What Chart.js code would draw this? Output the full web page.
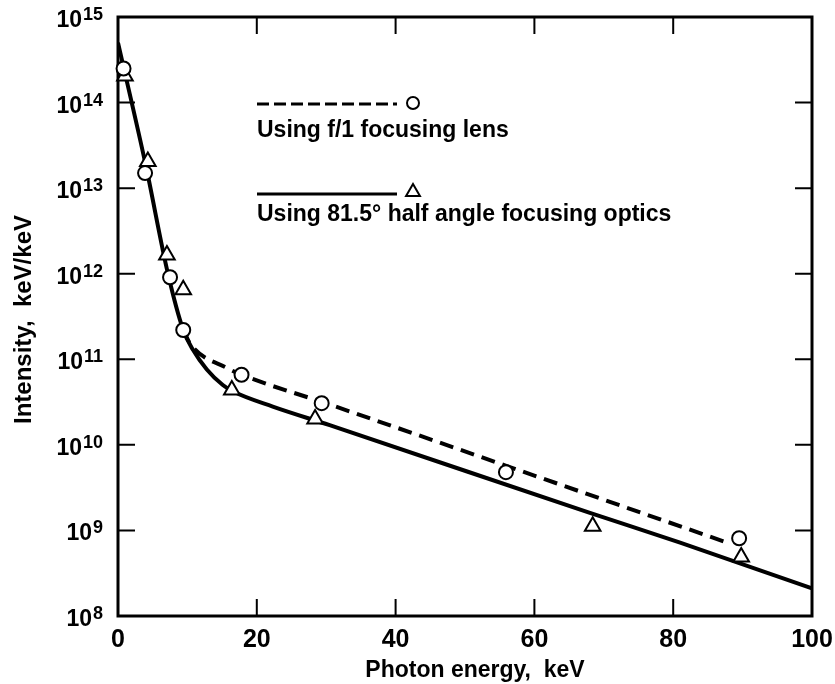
<!DOCTYPE html>
<html><head><meta charset="utf-8">
<script src="https://cdn.jsdelivr.net/npm/chart.js@4.4.1/dist/chart.umd.min.js"></script>
<style>html,body{margin:0;padding:0;background:#fff;}#wrap{position:relative;width:835px;height:684px;}</style>
</head><body><div id="wrap"><canvas id="c" width="835" height="684"></canvas></div>
<script>
// ---- data ----
const solidEnergy    = [0, 4.0, 7.2, 9.4, 10.8, 12.8, 15.1, 16.6, 22.3, 30.5, 68.0, 81.0, 100];
const solidIntensity = [5.0e14, 1.85e13, 1.0e12, 2.2e11, 1.29e11, 7.6e10, 5.0e10, 4.2e10, 2.8e10, 1.7e10, 1.6e9, 7.2e8, 2.1e8];
const dashEnergy     = [9.4, 10.5, 15.7, 17.8, 30.5, 68.0, 87.8];
const dashIntensity  = [2.2e11, 1.48e11, 7.9e10, 6.6e10, 2.96e10, 2.6e9, 7.2e8];
const lensEnergy     = [0.8, 3.9, 7.5, 9.4, 17.8, 29.35, 55.9, 89.5];
const lensIntensity  = [2.5e14, 1.5e13, 9.1e11, 2.2e11, 6.6e10, 3.07e10, 4.8e9, 8.1e8];
const opticsEnergy   = [1.0, 4.3, 7.05, 9.4, 16.4, 28.4, 68.4, 89.8];
const opticsIntensity= [2.05e14, 2.05e13, 1.66e12, 6.5e11, 4.37e10, 2.0e10, 1.12e9, 4.9e8];
const xTicks = [0, 20, 40, 60, 80, 100];
const yExponents = [8, 9, 10, 11, 12, 13, 14, 15];
const xTitle = 'Photon energy,  keV';
const yTitle = 'Intensity,  keV/keV';
const legendLabels = ['Using f/1 focusing lens', 'Using 81.5\u00B0 half angle focusing optics'];

const pts = (xs, ys) => xs.map((x, i) => ({x: x, y: ys[i]}));
const FONT = '"Liberation Sans", Arial, Helvetica, sans-serif';

const decor = {
  id: 'decor',
  beforeDatasetsDraw(chart) {
    const {ctx, chartArea: a, scales: {x, y}} = chart;
    ctx.save();
    ctx.strokeStyle = '#000';
    ctx.lineWidth = 3;
    ctx.strokeRect(a.left, a.top, a.right - a.left, a.bottom - a.top);
    ctx.lineWidth = 2;
    const L = 17;
    ctx.beginPath();
    xTicks.forEach(v => {
      const px = x.getPixelForValue(v);
      ctx.moveTo(px, a.bottom); ctx.lineTo(px, a.bottom - L);
      ctx.moveTo(px, a.top); ctx.lineTo(px, a.top + L);
    });
    yExponents.forEach(e => {
      const py = y.getPixelForValue(Math.pow(10, e));
      ctx.moveTo(a.left, py); ctx.lineTo(a.left + L, py);
      ctx.moveTo(a.right, py); ctx.lineTo(a.right - L, py);
    });
    ctx.stroke();
    ctx.restore();
  },
  afterDraw(chart) {
    const {ctx, chartArea: a, scales: {x, y}} = chart;
    ctx.save();
    ctx.fillStyle = '#000';
    // y tick labels 10^n
    yExponents.forEach(e => {
      const py = y.getPixelForValue(Math.pow(10, e));
      const b = py + 10;
      ctx.font = 'bold 18px ' + FONT;
      const es = String(e);
      const ew = ctx.measureText(es).width;
      const right = a.left - 15;
      ctx.textAlign = 'left'; ctx.textBaseline = 'alphabetic';
      ctx.fillText(es, right - ew, b - 7);
      ctx.font = 'bold 23px ' + FONT;
      ctx.textAlign = 'right';
      ctx.fillText('10', right - ew - 1, b);
    });
    // x tick labels
    ctx.font = 'bold 25px ' + FONT;
    ctx.textAlign = 'center'; ctx.textBaseline = 'alphabetic';
    xTicks.forEach(v => {
      ctx.fillText(String(v), x.getPixelForValue(v), a.bottom + 31);
    });
    // axis titles
    ctx.font = 'bold 23px ' + FONT;
    ctx.fillText(xTitle, (a.left + a.right) / 2 + 10, a.bottom + 61);
    ctx.save();
    ctx.translate(31, (a.top + a.bottom) / 2 + 3);
    ctx.rotate(-Math.PI / 2);
    ctx.font = 'bold 24px ' + FONT;
    ctx.fillText(yTitle, 0, 0);
    ctx.restore();
    // legend
    const lx = a.left + 139, lx2 = a.left + 279, sx = a.left + 295;
    ctx.strokeStyle = '#000';
    ctx.lineWidth = 3;
    ctx.setLineDash([12, 5]);
    ctx.beginPath(); ctx.moveTo(lx, a.top + 87); ctx.lineTo(lx2, a.top + 87); ctx.stroke();
    ctx.setLineDash([]);
    ctx.beginPath(); ctx.moveTo(lx, a.top + 177); ctx.lineTo(lx2, a.top + 177); ctx.stroke();
    ctx.lineWidth = 2;
    ctx.beginPath(); ctx.arc(sx, a.top + 86, 6, 0, Math.PI * 2); ctx.stroke();
    const tr = 8, tcy = a.top + 175;
    ctx.beginPath();
    ctx.moveTo(sx, tcy - tr);
    ctx.lineTo(sx + tr * Math.sin(2 * Math.PI / 3), tcy - tr * Math.cos(2 * Math.PI / 3));
    ctx.lineTo(sx + tr * Math.sin(4 * Math.PI / 3), tcy - tr * Math.cos(4 * Math.PI / 3));
    ctx.closePath(); ctx.stroke();
    ctx.font = 'bold 23px ' + FONT;
    ctx.textAlign = 'left';
    ctx.fillText(legendLabels[0], lx, a.top + 120);
    ctx.fillText(legendLabels[1], lx, a.top + 204);
    ctx.restore();
  }
};

new Chart(document.getElementById('c'), {
  type: 'scatter',
  data: {
    datasets: [
      {label: legendLabels[0], data: pts(lensEnergy, lensIntensity), pointStyle: 'circle', pointRadius: 7,
       pointBorderWidth: 2, backgroundColor: '#fff', borderColor: '#000', clip: false},
      {label: legendLabels[1], data: pts(opticsEnergy, opticsIntensity), pointStyle: 'triangle', pointRadius: 9,
       pointBorderWidth: 2, backgroundColor: '#fff', borderColor: '#000', clip: false},
      {label: 'dashed', data: pts(dashEnergy, dashIntensity), showLine: true, pointRadius: 0, borderColor: '#000',
       borderWidth: 4, borderDash: [14, 8], cubicInterpolationMode: 'monotone', fill: false},
      {label: 'solid', data: pts(solidEnergy, solidIntensity), showLine: true, pointRadius: 0, borderColor: '#000',
       borderWidth: 4, cubicInterpolationMode: 'monotone', fill: false}
    ]
  },
  options: {
    responsive: false, animation: false, events: [],
    devicePixelRatio: 1,
    layout: {padding: {left: 118, right: 23, top: 17, bottom: 68}},
    plugins: {legend: {display: false}, tooltip: {enabled: false}},
    scales: {
      x: {type: 'linear', display: false, min: 0, max: 100},
      y: {type: 'logarithmic', display: false, min: 1e8, max: 1e15,
          afterBuildTicks: s => { s.ticks = yExponents.map(e => ({value: Math.pow(10, e)})); }}
    }
  },
  plugins: [decor]
});
</script></body></html>
